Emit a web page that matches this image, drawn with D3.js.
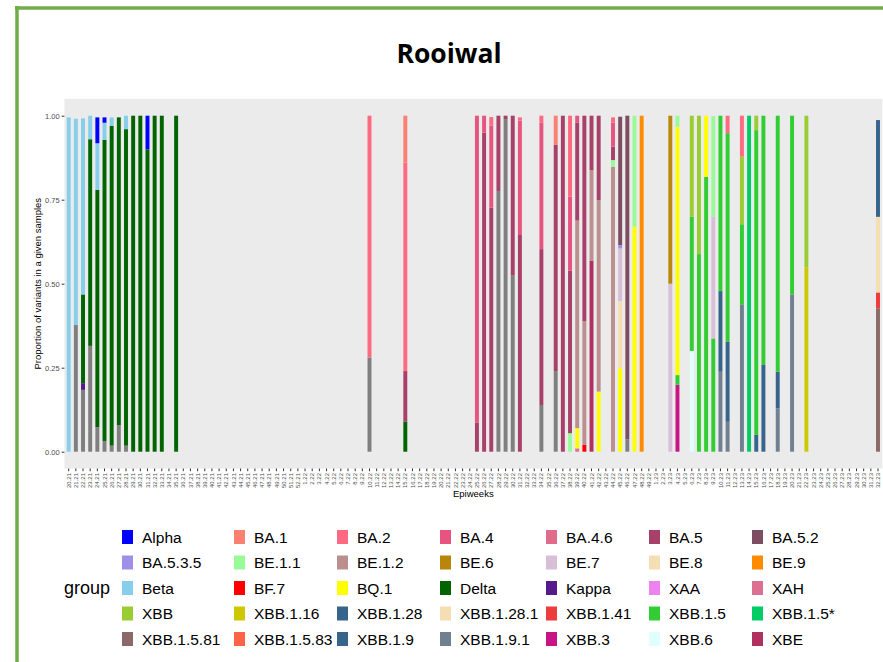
<!DOCTYPE html>
<html>
<head>
<meta charset="utf-8">
<script src="https://cdn.jsdelivr.net/npm/d3@7"></script>
<style>
  html, body { margin: 0; padding: 0; background: #fff; }
  svg { display: block; }
</style>
</head>
<body>
<svg id="chart" width="883" height="662"></svg>
<script>
// Epiweek axis: "week.yy", one category per week
const epiweekSpans = [[21, 20, 52], [22, 1, 49], [23, 1, 32]];
const epiweeks = [];
epiweekSpans.forEach(([yy, from, to]) => { for (let w = from; w <= to; w++) epiweeks.push(w + "." + yy); });

// Variant groups in legend order (first listed sits on top of each stack)
const groups = ["Alpha","BA.1","BA.2","BA.4","BA.4.6","BA.5","BA.5.2","BA.5.3.5","BE.1.1","BE.1.2",
  "BE.6","BE.7","BE.8","BE.9","Beta","BF.7","BQ.1","Delta","Kappa","XAA","XAH","XBB","XBB.1.16",
  "XBB.1.28","XBB.1.28.1","XBB.1.41","XBB.1.5","XBB.1.5*","XBB.1.5.81","XBB.1.5.83","XBB.1.9",
  "XBB.1.9.1","XBB.3","XBB.6","XBE"];
const groupColors = ["#0000FF","#FA8072","#FF6A80","#E75480","#E06C8C","#A8416A","#7D4E62","#9F8FE8","#98FB98","#BC8F8F",
  "#B8860B","#D8BFD8","#F5DEB3","#FF8C00","#87CEEB","#FF0000","#FFFF00","#006400","#551A8B","#EE82EE","#DB7093","#9ACD32","#CDC800",
  "#36648B","#F5DEB3","#EE3B3B","#32CD32","#00CD66","#8B6969","#FF6347","#36648B",
  "#708090","#C71585","#E0FFFF","#B03060"];
const otherColor = "#7F7F7F";

// Proportion of samples per epiweek, one list per variant group
const alpha   = [["24.21",0.077],["25.21",0.016],["31.21",0.10]];
const ba1     = [["15.22",0.14],["36.22",0.087]];
const ba2     = [["10.22",0.72],["15.22",0.62],["27.22",0.025],["31.22",0.01],["34.22",0.02],["38.22",0.241],["44.22",0.015],["11.23",0.052],["13.23",0.122]];
const ba4     = [["25.22",0.914],["26.22",0.05],["27.22",0.245],["31.22",0.34],["34.22",0.377],["38.22",0.22],["39.22",0.02],["44.22",0.072]];
const ba5     = [["15.22",0.15],["25.22",0.086],["26.22",0.95],["27.22",0.726],["28.22",0.224],["29.22",0.01],["30.22",0.476],["31.22",0.645],["34.22",0.464],["36.22",0.673],["37.22",1.0],["38.22",0.484],["39.22",0.292],["40.22",0.611],["41.22",0.162],["42.22",0.251],["44.22",0.04]];
const ba52    = [["45.22",0.382],["46.22",0.963]];
const ba535   = [["45.22",0.01]];
const be11    = [["38.22",0.055],["44.22",0.02],["47.22",0.33],["4.23",0.033],["9.23",0.30]];
const be12    = [["39.22",0.618],["40.22",0.369],["41.22",0.269],["42.22",0.57],["44.22",0.848]];
const be6     = [["3.23",0.50]];
const be7     = [["45.22",0.157],["3.23",0.50],["9.23",0.362]];
const be8     = [["45.22",0.20]];
const be9     = [["48.22",1.0]];
const beta    = [["20.21",0.995],["21.21",0.614],["22.21",0.524],["23.21",0.07],["24.21",0.139],["25.21",0.051],["26.21",0.025],["28.21",0.04]];
const bf7     = [["40.22",0.02]];
const bq1     = [["39.22",0.06],["42.22",0.179],["45.22",0.248],["47.22",0.67],["4.23",0.739],["8.23",0.182]];
const delta   = [["22.21",0.264],["23.21",0.615],["24.21",0.706],["25.21",0.896],["26.21",0.952],["27.21",0.916],["28.21",0.942],["29.21",1.0],["30.21",1.0],["31.21",0.90],["32.21",1.0],["33.21",1.0],["35.21",1.0],["15.22",0.09]];
const kappa   = [["22.21",0.02]];
const xah     = [["39.22",0.01]];
const xbb     = [["6.23",0.30],["7.23",0.412],["13.23",0.201],["15.23",0.043],["22.23",0.451]];
const xbb116  = [["22.23",0.549]];
const xbb128  = [["32.23",0.288]];
const xbb1281 = [["32.23",0.225]];
const xbb141  = [["32.23",0.047]];
const xbb15   = [["4.23",0.029],["6.23",0.40],["7.23",0.588],["8.23",0.818],["9.23",0.337],["10.23",0.522],["11.23",0.621],["13.23",0.24],["15.23",0.907],["16.23",0.742],["18.23",0.762],["20.23",0.532]];
const xbb15s  = [["14.23",1.0]];
const xbb1581 = [["32.23",0.427]];
const xbb19   = [["10.23",0.24],["11.23",0.238],["15.23",0.05],["16.23",0.258],["18.23",0.109]];
const xbb191  = [["10.23",0.238],["11.23",0.089],["13.23",0.437],["18.23",0.129],["20.23",0.468]];
const xbb3    = [["4.23",0.199]];
const xbb6    = [["6.23",0.30]];
const xbe     = [["41.22",0.569]];
const other   = [["21.21",0.377],["22.21",0.184],["23.21",0.315],["24.21",0.073],["25.21",0.032],["26.21",0.018],["27.21",0.079],["28.21",0.018],["10.22",0.28],["28.22",0.776],["29.22",0.99],["30.22",0.524],["34.22",0.139],["36.22",0.24],["46.22",0.037]];

const seriesByGroup = {
  "Alpha": alpha, "BA.1": ba1, "BA.2": ba2, "BA.4": ba4, "BA.5": ba5, "BA.5.2": ba52, "BA.5.3.5": ba535,
  "BE.1.1": be11, "BE.1.2": be12, "BE.6": be6, "BE.7": be7, "BE.8": be8, "BE.9": be9, "Beta": beta,
  "BF.7": bf7, "BQ.1": bq1, "Delta": delta, "Kappa": kappa, "XAH": xah, "XBB": xbb, "XBB.1.16": xbb116,
  "XBB.1.28": xbb128, "XBB.1.28.1": xbb1281, "XBB.1.41": xbb141, "XBB.1.5": xbb15, "XBB.1.5*": xbb15s,
  "XBB.1.5.81": xbb1581, "XBB.1.9": xbb19, "XBB.1.9.1": xbb191, "XBB.3": xbb3, "XBB.6": xbb6, "XBE": xbe,
  "Other": other
};

// Wide table: one row per epiweek, one column per group
const table = epiweeks.map(w => {
  const row = { week: w };
  groups.concat(["Other"]).forEach(g => { row[g] = 0; });
  return row;
});
const rowByWeek = new Map(table.map(r => [r.week, r]));
Object.entries(seriesByGroup).forEach(([g, list]) => list.forEach(([w, v]) => { rowByWeek.get(w)[g] = v; }));

const color = d3.scaleOrdinal().domain(groups.concat(["Other"])).range(groupColors.concat([otherColor]));

const svg = d3.select("#chart");
svg.append("rect").attr("width", 883).attr("height", 662).attr("fill", "#fff");

// Slide frame
svg.append("line").attr("x1", 17).attr("x2", 17).attr("y1", 6).attr("y2", 662)
  .attr("stroke", "#70AD47").attr("stroke-width", 3.5);
svg.append("line").attr("x1", 15).attr("x2", 883).attr("y1", 8).attr("y2", 8)
  .attr("stroke", "#70AD47").attr("stroke-width", 3.5);

svg.append("text").attr("x", 449).attr("y", 63).attr("text-anchor", "middle")
  .attr("font-family", "Open Sans, sans-serif").attr("font-weight", 700).attr("font-size", 26.5)
  .attr("fill", "#000").text("Rooiwal");

const panel = { left: 64.4, right: 882.3 };
const x = d3.scaleBand().domain(epiweeks).range([panel.left, panel.right]).paddingInner(0.45).paddingOuter(0.325);
const y = d3.scaleLinear().domain([-0.05, 1.05]).range([468.5, 98.9]);

svg.append("rect").attr("x", panel.left).attr("y", y(1.05))
  .attr("width", panel.right - panel.left).attr("height", y(-0.05) - y(1.05)).attr("fill", "#EBEBEB");

// Stack: bottom-most key first, so the legend order reads top-down in each bar
const stackKeys = ["Other"].concat(groups.slice().reverse());
const stacked = d3.stack().keys(stackKeys)(table);

svg.append("g").selectAll("g").data(stacked).join("g")
  .attr("fill", d => color(d.key))
  .selectAll("rect").data(d => d.filter(s => s[1] - s[0] > 0)).join("rect")
  .attr("x", d => x(d.data.week))
  .attr("width", x.bandwidth())
  .attr("y", d => y(d[1]))
  .attr("height", d => y(d[0]) - y(d[1]));

// Axes
const yAxis = svg.append("g").attr("transform", `translate(${panel.left},0)`)
  .call(d3.axisLeft(y).tickValues([0, 0.25, 0.5, 0.75, 1]).tickFormat(d3.format(".2f")).tickSize(2.7).tickPadding(2));
yAxis.select(".domain").remove();
yAxis.selectAll(".tick line").attr("stroke", "#333");
yAxis.selectAll(".tick text").attr("fill", "#4D4D4D").attr("font-size", 7.5).attr("font-family", "Liberation Sans, Arial, sans-serif");

const xAxis = svg.append("g").attr("transform", `translate(0,${y(-0.05)})`)
  .call(d3.axisBottom(x).tickSize(2.7).tickPadding(2));
xAxis.select(".domain").remove();
xAxis.selectAll(".tick line").attr("stroke", "#333");
xAxis.selectAll(".tick text")
  .attr("fill", "#4D4D4D").attr("font-size", 6).attr("font-family", "Liberation Sans, Arial, sans-serif")
  .attr("text-anchor", "end").attr("transform", "rotate(-90)")
  .attr("x", -4.5).attr("y", 0).attr("dy", "0.35em");

svg.append("text").attr("x", (panel.left + panel.right) / 2).attr("y", 497).attr("text-anchor", "middle")
  .attr("font-family", "Liberation Sans, Arial, sans-serif").attr("font-size", 9.5).text("Epiweeks");
svg.append("text").attr("transform", `translate(41,${(y(1.05) + y(-0.05)) / 2}) rotate(-90)`)
  .attr("text-anchor", "middle").attr("font-family", "Liberation Sans, Arial, sans-serif").attr("font-size", 9.5)
  .text("Proportion of variants in a given samples");

// Legend: 7 columns filled row by row
const legendCols = [122, 234, 337, 440, 546, 649, 752];
const legendRows = [537, 562.5, 588, 613.5, 639];
svg.append("text").attr("x", 64).attr("y", 594).attr("font-family", "Liberation Sans, Arial, sans-serif")
  .attr("font-size", 18).text("group");
const items = svg.append("g").selectAll("g").data(groups).join("g")
  .attr("transform", (d, i) => `translate(${legendCols[i % 7]},${legendRows[Math.floor(i / 7)]})`);
items.append("rect").attr("x", 0).attr("y", -7).attr("width", 11).attr("height", 14).attr("fill", d => color(d));
items.append("text").attr("x", 20).attr("y", 0).attr("dy", "0.36em")
  .attr("font-family", "Liberation Sans, Arial, sans-serif").attr("font-size", 15.5).text(d => d);
</script>
</body>
</html>
